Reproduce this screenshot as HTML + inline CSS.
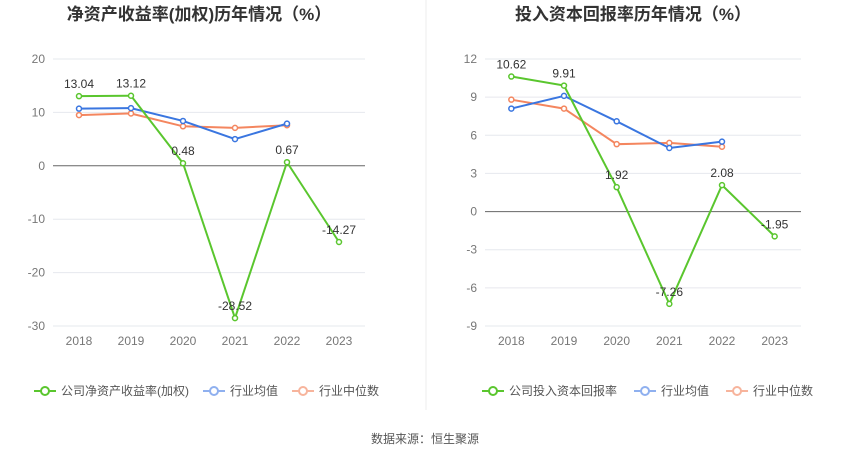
<!DOCTYPE html>
<html><head><meta charset="utf-8"><style>
body{margin:0;background:#fff;font-family:"Liberation Sans","Noto Sans CJK SC",sans-serif}
svg text{font-family:"Liberation Sans","Noto Sans CJK SC",sans-serif}
</style></head><body>
<svg id="c" width="850" height="459"></svg>
<script>
const years=["2018","2019","2020","2021","2022","2023"];
const roeCompany=[13.04,13.12,0.48,-28.52,0.67,-14.27];
const roeAvg=[10.7,10.8,8.4,5.0,7.9];
const roeMedian=[9.5,9.8,7.4,7.1,7.6];
const roeTicks=[20,10,0,-10,-20,-30];
const roicCompany=[10.62,9.91,1.92,-7.26,2.08,-1.95];
const roicAvg=[8.1,9.1,7.1,5.0,5.5];
const roicMedian=[8.8,8.1,5.3,5.4,5.1];
const roicTicks=[12,9,6,3,0,-3,-6,-9];
const NS="http://www.w3.org/2000/svg";
const svg=document.getElementById('c');
function mk(tag,attrs,text){const e=document.createElementNS(NS,tag);for(const k in attrs)e.setAttribute(k,attrs[k]);if(text!==undefined)e.textContent=text;svg.appendChild(e);return e;}
function chart(o){
  const x0=o.x0,x1=o.x1,yTop=59,yBot=326;
  const tmax=o.ticks[0],tmin=o.ticks[o.ticks.length-1];
  const y=v=>yTop+(tmax-v)/(tmax-tmin)*(yBot-yTop);
  const bw=(x1-x0)/years.length;
  const x=i=>x0+bw*(i+0.5);
  let t=mk('text',{x:(x0+x1)/2-10,y:20,'text-anchor':'middle','font-size':17,'font-weight':'bold',fill:'#333'},o.title);
  
  o.ticks.forEach(v=>{
    const l=mk('line',{x1:x0,x2:x1,y1:y(v),y2:y(v),stroke:v===0?'#666':'#e6e8ee','stroke-width':1});
    
    const tt=mk('text',{x:x0-8,y:y(v)+4,'text-anchor':'end','font-size':12,fill:'#777'},v);
    
  });
  years.forEach((yr,i)=>{
    const tt=mk('text',{x:x(i),y:yBot+19,'text-anchor':'middle','font-size':12,fill:'#777'},yr);
    
  });
  const series=[[o.med,'#f4865f',o.key+'-median-line'],[o.avg,'#3a76e0',o.key+'-average-line'],[o.comp,'#5ac62e',o.key+'-company-line']];
  series.forEach(([d,c,n])=>{
    const p=mk('polyline',{points:d.map((v,i)=>x(i)+','+y(v)).join(' '),fill:'none',stroke:c,'stroke-width':2});
    
    d.forEach((v,i)=>{const ci=mk('circle',{cx:x(i),cy:y(v),r:2.5,fill:'#fff',stroke:c,'stroke-width':1.5});
      });
  });
  o.comp.forEach((v,i)=>{
    const tt=mk('text',{x:x(i),y:y(v)-8,'text-anchor':'middle','font-size':12,fill:'#333'},v.toFixed(2));
    
  });
  const lx=o.lx,ly=391;
  const items=[[o.compName,'#5ac62e'],['行业均值','#8fb0ef'],['行业中位数','#f7b49c']];
  let cx=lx;
  items.forEach(([n,c],k)=>{
    const g=mk('line',{x1:cx,x2:cx+22,y1:ly,y2:ly,stroke:c,'stroke-width':2});
    
    const ci=mk('circle',{cx:cx+11,cy:ly,r:4,fill:'#fff',stroke:c,'stroke-width':2});
    
    const tt=mk('text',{x:cx+27,y:ly+4,'font-size':12,fill:'#555'},n);
    
    cx+=27+tt.getComputedTextLength()+o.gap;
  });
}
chart({key:'roe',x0:53,x1:365,ticks:roeTicks,comp:roeCompany,avg:roeAvg,med:roeMedian,title:'净资产收益率(加权)历年情况（%）',compName:'公司净资产收益率(加权)',lx:34,gap:14});
chart({key:'roic',x0:485,x1:801,ticks:roicTicks,comp:roicCompany,avg:roicAvg,med:roicMedian,title:'投入资本回报率历年情况（%）',compName:'公司投入资本回报率',lx:482,gap:17});
const dv=mk('line',{x1:426,x2:426,y1:0,y2:410,stroke:'#eee','stroke-width':1});

const src=mk('text',{x:425,y:443,'text-anchor':'middle','font-size':12,fill:'#555'},'数据来源：恒生聚源');

</script>
</body></html>
